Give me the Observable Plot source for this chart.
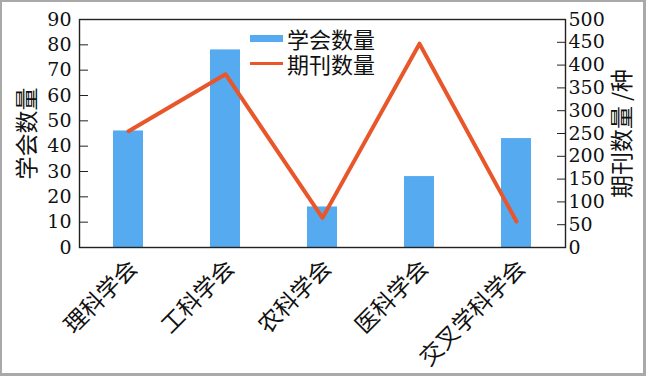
<!DOCTYPE html>
<html><head><meta charset="utf-8">
<script src="https://cdn.jsdelivr.net/npm/d3@7"></script>
<script src="https://cdn.jsdelivr.net/npm/@observablehq/plot@0.6"></script>
<style>
body{margin:0;background:#fff}
#wrap{position:relative;width:641px;height:371px;border-style:solid;border-color:#a9a9a9;border-width:2px 3px 3px 2px;background:#fff;overflow:hidden}
#wrap svg{display:block}
.leg{position:absolute;left:248px;display:flex;align-items:center;font-family:'Noto Sans CJK SC',sans-serif;font-size:22px;color:#111}
.leg .t{display:block;height:24px;line-height:24px;overflow:visible}
.sw{display:block;width:33px;margin-right:4px}
</style></head><body><div id="wrap"></div>
<script>
const categories = ["理科学会","工科学会","农科学会","医科学会","交叉学科学会"];
const societyCounts = [46, 78, 16, 28, 43];
const journalCounts = [255, 380, 65, 447, 57];
const leftTicks = [0,10,20,30,40,50,60,70,80,90];
const rightTicks = [0,50,100,150,200,250,300,350,400,450,500];
const seriesNames = ["学会数量","期刊数量"];
const leftTitle = "学会数量";
const rightTitle = "期刊数量 /种";
const barColor = "#56aaf0";
const lineColor = "#e8562a";
const leftMax = 90, rightMax = 500;
const k = leftMax / rightMax;
const data = categories.map((c, i) => ({c, s: societyCounts[i], j: journalCounts[i] * k}));
const serif = "'DejaVu Serif', 'Liberation Serif', serif";
const cjk = "'Noto Sans CJK SC', sans-serif";
const rightScaled = rightTicks.map(t => t * k);

const plot = Plot.plot({
  width: 641, height: 371,
  marginLeft: 77, marginRight: 78, marginTop: 17, marginBottom: 126,
  style: {fontSize: "19px", color: "#111", background: "white"},
  x: {domain: categories, paddingInner: 0.69, paddingOuter: 0.345, axis: null, label: null},
  y: {domain: [0, leftMax], axis: null, label: null},
  marks: [
    Plot.barY(data, {x: "c", y: "s", fill: barColor}),
    Plot.line(data, {x: "c", y: "j", stroke: lineColor, strokeWidth: 4}),
    Plot.frame({stroke: "#222", strokeWidth: 1.4}),
    Plot.axisY(leftTicks, {anchor: "left", tickSize: 9, dx: 9, tickFormat: () => "", label: null, stroke: "#222"}),
    Plot.axisY(leftTicks, {anchor: "left", tickSize: 0, tickPadding: 8, fontSize: 19, label: null}),
    Plot.axisY(rightScaled, {anchor: "right", tickSize: 9, dx: -9, tickFormat: () => "", label: null, stroke: "#222"}),
    Plot.axisY(rightScaled, {anchor: "right", tickSize: 0, tickPadding: 3, fontSize: 19, label: null, tickFormat: d => String(Math.round(d / k))}),
    Plot.text(categories, {x: d => d, frameAnchor: "bottom", rotate: -45, textAnchor: "end", lineAnchor: "middle", dx: 5, dy: 17, fontSize: 23, fill: "#111"}),
    Plot.text([leftTitle], {frameAnchor: "left", rotate: -90, textAnchor: "middle", lineAnchor: "middle", dx: -52, fontSize: 23, fill: "#111"}),
    Plot.text([rightTitle], {frameAnchor: "right", rotate: -90, textAnchor: "middle", lineAnchor: "middle", dx: 57, fontSize: 23, fill: "#111"})
  ]
});
const wrap = document.getElementById("wrap");
wrap.appendChild(plot);
// fonts: serif digits for tick labels, CJK for Chinese texts
d3.select(plot).selectAll("text").each(function () {
  const isNum = /^[0-9]+$/.test(this.textContent.trim());
  this.style.fontFamily = isNum ? serif : cjk;
  if (isNum) this.style.fontVariant = "normal";
});
const legendRows = [
  {name: seriesNames[0], top: 24, sw: `height:7px;background:${barColor}`},
  {name: seriesNames[1], top: 49, sw: `height:3px;background:${lineColor}`}
];
for (const r of legendRows) {
  const d = document.createElement("div");
  d.className = "leg";
  d.style.top = r.top + "px";
  d.innerHTML = `<span class="sw" style="${r.sw}"></span><span class="t">${r.name}</span>`;
  wrap.appendChild(d);
}
</script></body></html>
